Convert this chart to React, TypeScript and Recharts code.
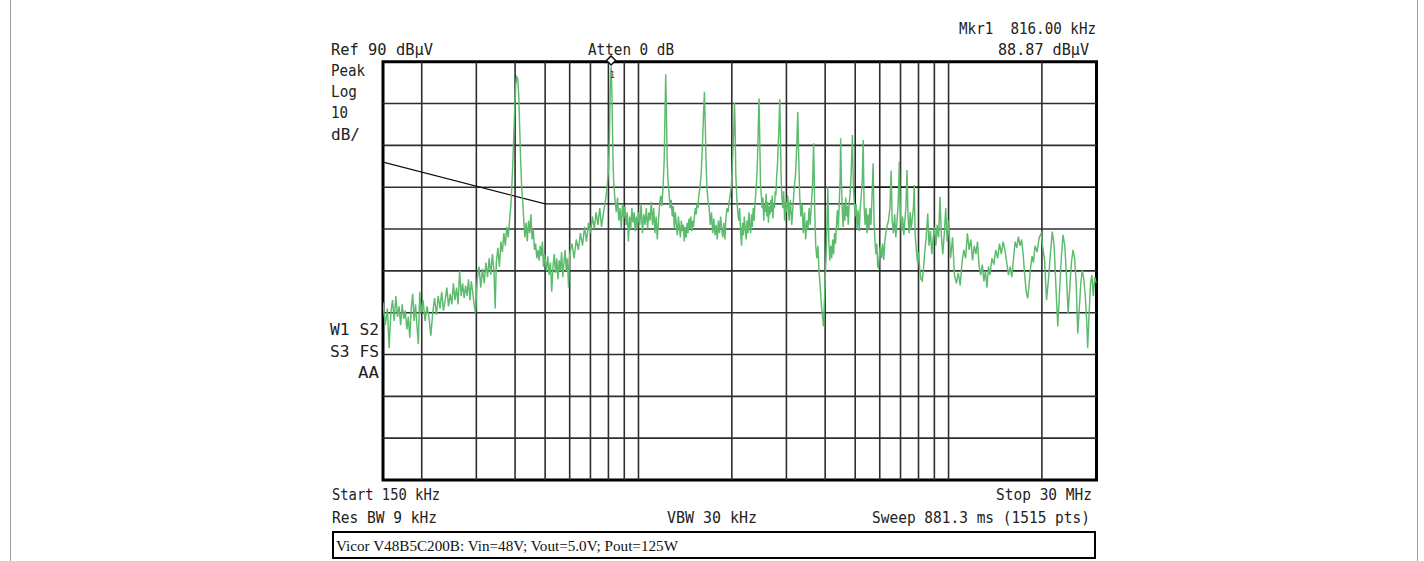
import React from 'react';
import { ComposedChart, Line, XAxis, YAxis, ReferenceLine, ReferenceArea, ReferenceDot } from 'recharts';

const W = 1424;
const H = 561;

// Trace readings: [frequency kHz, level dBµV]
const band150to300: [number, number][] = [
  [150, 32.5], [152.5, 27], [155, 31], [157, 21.5], [159, 30], [161, 33], [163, 28], [165, 34], [167, 29],
  [169, 31.5], [171, 27], [173, 32], [175, 28.5], [177, 30.5], [179, 26], [181, 29], [183, 24], [185, 31],
  [187, 34.5], [189, 28], [191, 32], [193, 27], [195, 22.5], [197, 35], [199, 30],
  [202, 33], [205, 28], [208, 31.5], [211, 29], [214, 24.5], [217, 30], [220, 33.5], [223, 29.5], [226, 34],
  [229, 31], [232, 35], [235, 30.5], [238, 33], [241, 36], [244, 31.5], [247, 34.5], [250, 32], [253, 37],
  [256, 33], [259, 36], [262, 32], [265, 40], [268, 34], [271, 37], [274, 33.5], [277, 36.5], [280, 34],
  [283, 38], [286, 33], [289, 37.5], [292, 35], [295, 32], [298, 30],
];

const band300to500: [number, number][] = [
  [302, 38], [306, 41], [310, 36], [314, 40.5], [318, 37], [322, 42], [326, 38.5], [330, 43], [334, 39],
  [338, 44], [342, 40], [345, 31], [348, 42], [352, 45.5], [356, 41], [360, 47], [364, 44.5], [368, 49],
  [372, 46], [376, 50.5], [380, 48], [384, 52], [388, 56], [392, 63], [396, 72], [399, 79], [402, 84.5],
  [405, 86.4], [408, 86], [411, 82], [414, 74], [417, 66], [420, 60], [423, 57],
  [426, 53], [430, 48], [434, 51.5], [438, 47], [442, 52], [446, 49], [450, 53.5], [454, 47.5], [458, 50],
  [462, 45], [466, 46.5], [470, 43], [474, 45], [478, 42.5], [482, 46], [486, 43.5], [490, 47], [494, 41],
  [498, 44],
];

const band500to1000: [number, number][] = [
  [505, 40], [510, 43.5], [515, 39], [520, 42], [525, 35], [530, 41], [535, 44], [540, 39.5], [545, 43],
  [550, 38], [555, 42.5], [560, 40], [565, 44.5], [570, 38.5], [575, 42], [580, 45], [585, 40], [590, 43],
  [595, 36], [600, 44], [610, 46.5], [620, 43], [630, 47.5], [640, 45], [650, 49], [660, 46], [670, 50.5],
  [680, 47], [690, 51.5], [700, 49], [710, 53], [720, 50], [730, 54], [740, 51], [750, 55], [760, 50.5],
  [770, 53.5], [780, 56], [790, 59], [800, 64], [806, 72], [811, 84], [816, 88.87], [821, 83], [826, 70],
  [832, 61], [840, 57], [848, 54], [856, 57.5], [864, 52], [872, 55], [880, 50], [888, 56], [896, 52.5],
  [904, 55.5], [912, 51], [920, 54], [928, 47], [936, 53], [944, 50], [952, 55], [960, 51.5], [968, 54],
  [976, 49.5], [984, 53], [992, 50],
];

const band1to2M: [number, number][] = [
  [1000, 54], [1010, 51], [1020, 56], [1030, 49], [1040, 53.5], [1050, 51], [1060, 55], [1070, 50],
  [1080, 54], [1090, 52], [1100, 56.5], [1110, 51], [1120, 55], [1130, 49], [1140, 53], [1150, 47.5],
  [1160, 52], [1170, 56], [1180, 58], [1190, 55.5], [1200, 60], [1210, 66], [1218, 78], [1224, 87],
  [1230, 79], [1238, 66], [1246, 61], [1255, 58.5], [1265, 55], [1275, 57], [1285, 53], [1295, 55.5],
  [1305, 50], [1315, 54], [1325, 51], [1335, 48.5], [1345, 53], [1355, 50.5], [1365, 48], [1375, 52],
  [1385, 49.5], [1395, 51], [1405, 47], [1415, 50.5], [1425, 48], [1435, 51.5], [1445, 49], [1455, 52.5],
  [1465, 50], [1475, 53], [1485, 49.5], [1495, 52], [1505, 50.5], [1515, 53], [1525, 55], [1535, 53.5],
  [1545, 56], [1555, 55], [1565, 58], [1580, 60], [1595, 64], [1610, 71], [1622, 78], [1632, 82.8],
  [1642, 75], [1652, 66], [1662, 60], [1675, 57], [1690, 55], [1705, 51], [1720, 54], [1735, 49],
  [1750, 52.5], [1765, 48.5], [1780, 51], [1795, 47.5], [1810, 52], [1825, 49], [1840, 53], [1855, 50],
  [1870, 48], [1885, 51.5], [1900, 47.5], [1915, 53], [1930, 55], [1945, 54], [1960, 56.5], [1975, 58],
  [1990, 60], [2005, 64], [2020, 70], [2030, 74], [2040, 80.2],
];

const band2to3M: [number, number][] = [
  [2050, 74], [2060, 63], [2075, 57.5], [2090, 54], [2105, 52], [2120, 55], [2135, 49], [2150, 46],
  [2165, 51.5], [2180, 48.5], [2195, 53], [2210, 50], [2225, 47.5], [2240, 52], [2255, 49], [2270, 54],
  [2285, 51], [2300, 49], [2315, 53.5], [2330, 50.5], [2345, 55], [2360, 52], [2375, 56], [2390, 58.5],
  [2405, 62], [2420, 66.5], [2435, 75], [2448, 81.2], [2460, 72], [2475, 61], [2490, 58], [2505, 55],
  [2520, 57.5], [2535, 52], [2550, 56], [2565, 54], [2580, 58.5], [2595, 53], [2610, 56.5], [2625, 51.5],
  [2640, 55.5], [2655, 53.5], [2670, 57], [2685, 54], [2700, 58], [2715, 52.5], [2730, 56], [2745, 55],
  [2760, 59], [2775, 58], [2790, 62.5], [2810, 66], [2830, 72], [2845, 77], [2856, 81], [2870, 72],
  [2885, 62], [2900, 58], [2920, 55], [2940, 59], [2960, 52], [2980, 56.5],
];

const band3to5M: [number, number][] = [
  [3000, 54], [3030, 58], [3060, 52], [3090, 57], [3120, 51], [3150, 55.5], [3180, 60], [3210, 63],
  [3240, 70], [3264, 78], [3285, 68], [3310, 58], [3340, 53], [3370, 56], [3400, 49], [3430, 54],
  [3460, 47.5], [3490, 52], [3520, 50], [3550, 55], [3580, 51], [3610, 56], [3640, 60], [3672, 70.5],
  [3700, 55], [3730, 46], [3760, 43], [3790, 46], [3820, 40], [3850, 37], [3880, 33], [3910, 30],
  [3950, 26.7], [3980, 33], [4010, 40], [4040, 46.5], [4080, 60.1], [4110, 47], [4140, 42.5], [4170, 46],
  [4200, 43], [4230, 47.5], [4260, 44], [4290, 49], [4320, 46.5], [4350, 51], [4380, 54.5], [4410, 50],
  [4440, 56], [4470, 62], [4488, 71.7], [4510, 62], [4540, 55], [4570, 50.5], [4600, 56], [4630, 52],
  [4660, 57.5], [4690, 53], [4720, 55.5], [4750, 51], [4780, 56], [4810, 58], [4850, 63], [4896, 72.5],
  [4930, 61], [4960, 57], [4990, 53],
];

const band5to10M: [number, number][] = [
  [5030, 56], [5070, 50], [5110, 54.5], [5150, 49.5], [5190, 55], [5230, 58], [5270, 62], [5304, 71.3],
  [5340, 56], [5380, 51], [5420, 55], [5460, 49], [5500, 53.5], [5540, 50], [5580, 55], [5620, 51],
  [5660, 57], [5712, 65.7], [5750, 52], [5790, 47], [5830, 44], [5870, 46.5], [5910, 41], [5950, 40.7],
  [5990, 44.5], [6030, 46], [6080, 43], [6130, 46.5], [6180, 42.6], [6230, 47], [6280, 49], [6330, 50.6],
  [6400, 52], [6470, 55], [6528, 64], [6580, 52], [6640, 49], [6700, 53.5], [6760, 48], [6820, 52],
  [6880, 56], [6936, 66.1], [6990, 54], [7050, 49.5], [7110, 53], [7170, 48.5], [7230, 52], [7290, 55.5],
  [7344, 64.1], [7400, 53], [7460, 49], [7520, 54], [7580, 50], [7640, 52.5], [7700, 55], [7752, 60.5],
  [7800, 49], [7870, 45], [7940, 42], [8010, 44.5], [8080, 40], [8150, 38], [8230, 37.6], [8310, 41],
  [8390, 45], [8470, 48], [8568, 53.7], [8650, 46], [8740, 49.5], [8830, 44], [8920, 48], [9010, 50.5],
  [9100, 46], [9190, 51], [9290, 48], [9384, 57.7], [9480, 48.5], [9580, 44], [9690, 49], [9792, 55],
  [9900, 47],
];

const band10to30M: [number, number][] = [
  [10000, 52], [10150, 43], [10300, 48], [10450, 39], [10600, 37], [10750, 39.5], [10900, 36.5],
  [11050, 42], [11200, 45], [11350, 43], [11500, 49], [11650, 45], [11800, 47.5], [11950, 42.5],
  [12100, 46], [12250, 44], [12400, 47], [12550, 41], [12700, 39], [12850, 41.5], [13000, 37.5],
  [13150, 40], [13300, 36], [13450, 41], [13600, 39], [13800, 43], [14000, 41.5], [14200, 45],
  [14400, 43], [14600, 46.5], [14800, 44], [15000, 47], [15200, 45], [15400, 42], [15600, 39],
  [15800, 41], [16000, 38.5], [16200, 43], [16400, 47], [16600, 45.5], [16800, 48.2], [17000, 46],
  [17200, 47.5], [17400, 44], [17600, 39], [17800, 35], [18000, 33.4], [18200, 37], [18400, 41],
  [18600, 43.5], [18800, 42], [19000, 46], [19300, 44.5], [19600, 48], [19900, 49], [20100, 46],
  [20400, 42.6], [20700, 33], [21000, 38], [21300, 44], [21600, 49.4], [21900, 46], [22200, 36],
  [22500, 26.7], [22800, 35], [23100, 43], [23400, 48.6], [23700, 46], [24000, 39], [24300, 29.8],
  [24600, 36], [24900, 42], [25200, 45], [25500, 43], [25800, 37], [26100, 25], [26400, 31], [26700, 37],
  [27000, 40.2], [27300, 38], [27600, 34], [27900, 28], [28100, 21.5], [28400, 30], [28700, 37],
  [29000, 39], [29300, 34], [29600, 38.5], [30000, 37],
];

const trace = [
  ...band150to300, ...band300to500, ...band500to1000, ...band1to2M,
  ...band2to3M, ...band3to5M, ...band5to10M, ...band10to30M,
].map(([f, db]) => ({ f, db }));

const limitFreqs = [150, 500, 5000, 5000, 30000];
const limitLevels = [66, 56, 56, 60, 60];
const limit = limitFreqs.map((f, i) => ({ f, db: limitLevels[i] }));

const gridFreqs = [200, 300, 400, 500, 600, 700, 800, 900, 1000, 2000, 3000, 4000, 5000, 6000, 7000, 8000, 9000, 10000, 20000];
const gridLevels = [0, 10, 20, 30, 40, 50, 60, 70, 80];

const markerFreq = 816;
const markerLevel = 88.87;

const MONO = '"DejaVu Sans Mono", monospace';

// [text, x, baseline, width]
const labels: [string, number, number, number][] = [
  ['Mkr1  816.00 kHz', 959, 34, 137],
  ['88.87 dBμV', 998, 55, 91],
  ['Ref 90 dBμV', 331, 55, 102],
  ['Atten 0 dB', 588, 55, 86],
  ['Peak', 331, 76, 34],
  ['Log', 331, 97, 26],
  ['10', 331, 118, 17],
  ['dB/', 331, 140, 29],
  ['W1 S2', 330, 335, 49],
  ['S3 FS', 330, 357, 49],
  ['AA', 358, 378, 21],
  ['Start 150 kHz', 332, 500, 108],
  ['Res BW 9 kHz', 332, 523, 105],
  ['VBW 30 kHz', 667, 523, 90],
  ['Stop 30 MHz', 996, 500, 96],
  ['Sweep 881.3 ms (1515 pts)', 872, 523, 218],
];

const caption = 'Vicor V48B5C200B: Vin=48V; Vout=5.0V; Pout=125W';

const MarkerShape = (props: any) => {
  const { cx, cy } = props;
  const c = cy - 6;
  const s = 4.5;
  return (
    <g>
      <polygon
        points={`${cx},${c - s} ${cx + s},${c} ${cx},${c + s} ${cx - s},${c}`}
        fill="#fff"
        stroke="#111"
        strokeWidth={1.5}
      />
      <text x={cx - 1} y={cy + 12} fontSize={8} fontFamily={MONO} fill="#333">1</text>
    </g>
  );
};

export default function App() {
  return (
    <div style={{ position: 'absolute', left: 0, top: 0, width: W, height: H, background: '#fff' }}>
      <ComposedChart
        width={W}
        height={H}
        data={trace}
        margin={{ top: 61.7, right: 327.5, bottom: 81, left: 383 }}
      >
        <XAxis dataKey="f" type="number" scale="log" domain={[150, 30000]} hide allowDataOverflow />
        <YAxis type="number" domain={[-10, 90]} hide allowDataOverflow />
        {gridLevels.map((v) => (
          <ReferenceLine key={'h' + v} y={v} stroke="#2e2e2e" strokeWidth={1.6} />
        ))}
        {gridFreqs.map((f) => (
          <ReferenceLine key={'v' + f} x={f} stroke="#2e2e2e" strokeWidth={1.6} />
        ))}
        <Line
          data={limit}
          dataKey="db"
          type="linear"
          stroke="#111"
          strokeWidth={1.3}
          dot={false}
          activeDot={false}
          isAnimationActive={false}
        />
        <Line
          dataKey="db"
          type="linear"
          stroke="#5cbb6c"
          strokeWidth={1.45}
          dot={false}
          activeDot={false}
          isAnimationActive={false}
        />
        <ReferenceArea x1={150} x2={30000} y1={-10} y2={90} fill="none" fillOpacity={0} stroke="#000" strokeWidth={3} />
        <ReferenceDot x={markerFreq} y={markerLevel} shape={MarkerShape} />
      </ComposedChart>
      <svg
        width={W}
        height={H}
        style={{ position: 'absolute', left: 0, top: 0, pointerEvents: 'none' }}
      >
        <line x1={10.5} y1={0} x2={10.5} y2={H} stroke="#a0a0a0" strokeWidth={1} />
        <line x1={1417.5} y1={0} x2={1417.5} y2={H} stroke="#a0a0a0" strokeWidth={1} />
        {labels.map(([t, x, y, w]) => (
          <text
            key={t}
            x={x}
            y={y}
            fontFamily={MONO}
            fontSize={16}
            fill="#222"
            textLength={w}
            lengthAdjust="spacingAndGlyphs"
            style={{ whiteSpace: 'pre' }}
          >
            {t}
          </text>
        ))}
        <rect x={333} y={532} width={762} height={26} fill="none" stroke="#000" strokeWidth={2} />
        <text
          x={336}
          y={551}
          fontFamily='"Liberation Serif", "Times New Roman", serif'
          fontSize={14}
          fill="#111"
          textLength={342}
          lengthAdjust="spacingAndGlyphs"
        >
          {caption}
        </text>
      </svg>
    </div>
  );
}
